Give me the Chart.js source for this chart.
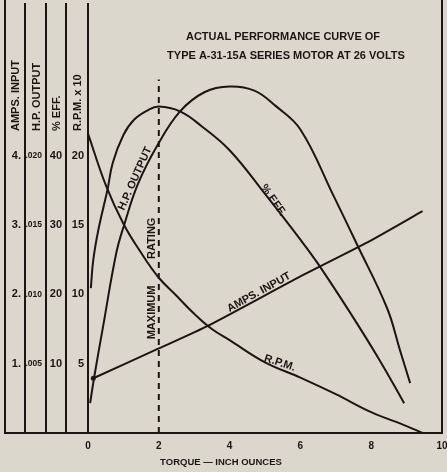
<!DOCTYPE html>
<html>
<head>
<meta charset="utf-8">
<script src="https://cdn.jsdelivr.net/npm/chart.js@4.4.1/dist/chart.umd.min.js"></script>
<style>
  html, body { margin: 0; padding: 0; background: #dcd8cd; }
  #wrap { width: 447px; height: 472px; }
</style>
</head>
<body>
<div id="wrap"><canvas id="motorChart" width="447" height="472"></canvas></div>
<script>
// torque, inch ounces
const torqueTicks = [0, 2, 4, 6, 8, 10];

// R.P.M. x 10
const rpmTorque = [0, 0.5, 1, 1.5, 2, 2.5, 3, 3.5, 4, 5, 6, 7, 8, 9, 9.45];
const rpmValues = [21.6, 17.9, 15.1, 13.0, 11.2, 9.9, 8.6, 7.5, 6.7, 5.1, 4.0, 2.8, 1.5, 0.5, 0];

// amps input
const ampsTorque = [0.15, 2, 3.4, 6, 8, 9.45];
const ampsValues = [0.79, 1.22, 1.55, 2.26, 2.78, 3.2];

// % efficiency
const effTorque = [0.08, 0.15, 0.3, 0.55, 0.7, 1, 1.3, 1.7, 2, 2.6, 3.2, 4, 5, 6, 6.5, 7.4, 8.25, 8.93];
const effValues = [20.9, 25, 29.5, 35.1, 39, 43, 45.2, 46.6, 47.1, 46.4, 44.3, 40.8, 34.5, 27.9, 24.4, 17.4, 10.4, 4.3];

// h.p. output
const hpTorque = [0.06, 0.17, 0.42, 0.8, 1.02, 1.4, 1.95, 2.6, 3.3, 4.0, 4.7, 5.3, 6, 6.92, 7.6, 8.45, 8.81, 9.1];
const hpValues = [0.00215, 0.00395, 0.0076, 0.0130, 0.0150, 0.0179, 0.0207, 0.0232, 0.0246, 0.0250, 0.0247, 0.0236, 0.0219, 0.0172, 0.0136, 0.0090, 0.0060, 0.0036];

// maximum rating marker
const ratingTorque = 2;
const ratingTop = 5.1; // in amps units

// tick labels of the four side columns
const ampsTicks = [1, 2, 3, 4];
const hpTicks = [0.005, 0.010, 0.015, 0.020];
const effTicks = [10, 20, 30, 40];
const rpmTicks = [5, 10, 15, 20];

const ampsTop = 6.19;
const ink = '#1d1513';
const paper = '#dbd7cc';
const face = '"Liberation Sans", Arial, sans-serif';

// all four columns share the same grid, so each max follows from its tick step
const topFor = ticks => ampsTop * ticks[0] / ampsTicks[0];

function sideAxis(weight, width, ticks, fmt, size) {
    return {
        type: 'linear',
        position: 'left',
        weight: weight,
        min: 0,
        max: topFor(ticks),
        grid: { display: false, drawTicks: false },
        border: { display: true, color: ink, width: 2 },
        ticks: { color: ink, padding: 4, font: { family: face, size: size, weight: 'bold' }, callback: fmt },
        afterBuildTicks: s => { s.ticks = ticks.map(v => ({ value: v })); },
        afterFit: s => { s.width = width; s.paddingTop = 0; s.paddingBottom = 0; }
    };
}

const pairs = (xs, ys) => xs.map((x, i) => ({ x: x, y: ys[i] }));

function curve(xs, ys, axis) {
    return {
        data: pairs(xs, ys),
        yAxisID: axis,
        borderColor: ink,
        borderWidth: 2,
        pointRadius: 0,
        fill: false,
        tension: 0.4
    };
}

const notes = [
    { text: 'H.P. OUTPUT', t: 1.33, a: 3.67, rot: -66 },
    { text: '% EFF.', t: 5.23, a: 3.36, rot: 55 },
    { text: 'AMPS. INPUT', t: 4.83, a: 2.03, rot: -29 },
    { text: 'R.P.M.', t: 5.42, a: 1.01, rot: 18 },
    { text: 'MAXIMUM', t: 1.81, a: 1.74, rot: -90 },
    { text: 'RATING', t: 1.81, a: 2.81, rot: -90 }
];

const columnTitles = { amps: 'AMPS. INPUT', hp: 'H.P. OUTPUT', eff: '% EFF.', rpm: 'R.P.M. x 10' };

const paperPlugin = {
    id: 'paper',
    beforeDraw(chart) {
        const c = chart.ctx;
        c.save();
        c.fillStyle = paper;
        c.fillRect(0, 0, chart.width, chart.height);
        c.restore();
    },
    afterDraw(chart) {
        const c = chart.ctx;
        const area = chart.chartArea;
        const sx = chart.scales.x, sa = chart.scales.amps;
        c.save();
        c.strokeStyle = ink;
        c.lineWidth = 2;
        // outer frame: left edge, base line under the columns, right edge
        const leftEdge = chart.scales.amps.left + 1;
        c.beginPath();
        c.moveTo(leftEdge, 0);
        c.lineTo(leftEdge, area.bottom);
        c.lineTo(area.left, area.bottom);
        c.moveTo(area.right, 0);
        c.lineTo(area.right, area.bottom);
        c.stroke();

        c.fillStyle = ink;
        c.textBaseline = 'middle';

        // column headings
        c.font = 'bold 11px ' + face;
        c.textAlign = 'left';
        Object.keys(columnTitles).forEach(id => {
            const s = chart.scales[id];
            c.save();
            c.translate((s.left + s.right) / 2 + 1, 131);
            c.rotate(-Math.PI / 2);
            c.fillText(columnTitles[id], 0, 0);
            c.restore();
        });

        // labels along the curves
        c.textAlign = 'center';
        c.font = 'bold 11px ' + face;
        notes.forEach(n => {
            c.save();
            c.translate(sx.getPixelForValue(n.t), sa.getPixelForValue(n.a));
            c.rotate(n.rot * Math.PI / 180);
            c.fillText(n.text, 0, 0);
            c.restore();
        });

        // heading
        c.font = 'bold 11px ' + face;
        c.fillText('ACTUAL PERFORMANCE CURVE OF', 283, 37);
        c.fillText('TYPE A-31-15A SERIES MOTOR AT 26 VOLTS', 286, 56);

        // torque axis title, centred under the whole frame
        c.font = 'bold 9.5px ' + face;
        c.fillText('TORQUE \u2014 INCH OUNCES', 221, 462);
        c.restore();
    }
};

new Chart(document.getElementById('motorChart').getContext('2d'), {
    type: 'line',
    data: {
        datasets: [
            curve(rpmTorque, rpmValues, 'rpm'),
            Object.assign(curve(ampsTorque, ampsValues, 'amps'), {
                pointRadius: ampsTorque.map((_, i) => i === 0 ? 2.5 : 0),
                pointBackgroundColor: ink,
                pointBorderWidth: 0,
                tension: 0.2
            }),
            curve(effTorque, effValues, 'eff'),
            curve(hpTorque, hpValues, 'hp'),
            {
                data: [{ x: ratingTorque, y: 0 }, { x: ratingTorque, y: ratingTop }],
                yAxisID: 'amps',
                borderColor: ink,
                borderWidth: 2,
                borderDash: [6, 5],
                pointRadius: 0,
                tension: 0
            }
        ]
    },
    options: {
        responsive: false,
        animation: false,
        events: [],
        layout: { padding: { left: 4, right: 5, top: 0, bottom: 0 } },
        plugins: { legend: { display: false }, tooltip: { enabled: false }, title: { display: false } },
        scales: {
            x: {
                type: 'linear',
                position: 'bottom',
                min: 0,
                max: 10,
                grid: { display: false, drawTicks: false },
                border: { display: true, color: ink, width: 2 },
                ticks: { color: ink, padding: 7, maxRotation: 0, autoSkip: false, font: { family: face, size: 10, weight: 'bold' } },
                afterBuildTicks: s => { s.ticks = torqueTicks.map(v => ({ value: v })); },
                afterFit: s => { s.height = 39; s.paddingLeft = 0; s.paddingRight = 0; }
            },
            amps: sideAxis(4, 21, ampsTicks, v => v + '.', 11),
            hp: sideAxis(3, 21, hpTicks, v => '.' + String(Math.round(v * 1000)).padStart(3, '0'), 8.5),
            eff: sideAxis(2, 20, effTicks, v => String(v), 11),
            rpm: sideAxis(1, 22, rpmTicks, v => String(v), 11)
        }
    },
    plugins: [paperPlugin]
});
</script>
</body>
</html>
